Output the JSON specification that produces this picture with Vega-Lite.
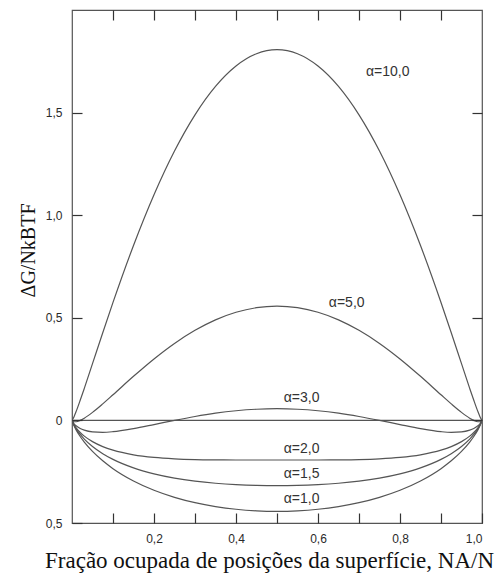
{
  "$schema": "https://vega.github.io/schema/vega-lite/v6.json",
  "width": 410,
  "height": 513,
  "autosize": "none",
  "padding": {"left": 72, "top": 10, "right": 17, "bottom": 59},
  "background": "white",
  "config": {
    "view": {"stroke": "#555", "strokeWidth": 1.2},
    "axis": {
      "labelFont": "Liberation Sans",
      "labelFontSize": 12,
      "labelColor": "#2a2a2a",
      "titleFont": "Liberation Serif",
      "titleFontWeight": "normal",
      "titleColor": "#111"
    }
  },
  "datasets": {
    "curves": [
      {"x": 0, "a10": 0, "a5": 0, "a3": 0, "a2": 0, "a15": 0, "a1": 0},
      {"x": 0.005, "a10": 0.0183, "a5": -0.0066, "a3": -0.0166, "a2": -0.0215, "a15": -0.024, "a1": -0.0265},
      {"x": 0.01, "a10": 0.043, "a5": -0.0065, "a3": -0.0263, "a2": -0.0362, "a15": -0.0412, "a1": -0.0461},
      {"x": 0.02, "a10": 0.098, "a5": 0.0, "a3": -0.0392, "a2": -0.0588, "a15": -0.0686, "a1": -0.0784},
      {"x": 0.03, "a10": 0.156, "a5": 0.0108, "a3": -0.0474, "a2": -0.0765, "a15": -0.0911, "a1": -0.1056},
      {"x": 0.05, "a10": 0.2765, "a5": 0.039, "a3": -0.056, "a2": -0.1035, "a15": -0.1273, "a1": -0.151},
      {"x": 0.075, "a10": 0.4274, "a5": 0.0805, "a3": -0.0583, "a2": -0.1276, "a15": -0.1623, "a1": -0.197},
      {"x": 0.1, "a10": 0.5749, "a5": 0.1249, "a3": -0.0551, "a2": -0.1451, "a15": -0.1901, "a1": -0.2351},
      {"x": 0.15, "a10": 0.8523, "a5": 0.2148, "a3": -0.0402, "a2": -0.1677, "a15": -0.2315, "a1": -0.2952},
      {"x": 0.2, "a10": 1.0996, "a5": 0.2996, "a3": -0.0204, "a2": -0.1804, "a15": -0.2604, "a1": -0.3404},
      {"x": 0.25, "a10": 1.3127, "a5": 0.3752, "a3": 0.0002, "a2": -0.1873, "a15": -0.2811, "a1": -0.3748},
      {"x": 0.3, "a10": 1.4891, "a5": 0.4391, "a3": 0.0191, "a2": -0.1909, "a15": -0.2959, "a1": -0.4009},
      {"x": 0.35, "a10": 1.6276, "a5": 0.4901, "a3": 0.0351, "a2": -0.1924, "a15": -0.3062, "a1": -0.4199},
      {"x": 0.4, "a10": 1.727, "a5": 0.527, "a3": 0.047, "a2": -0.193, "a15": -0.313, "a1": -0.433},
      {"x": 0.45, "a10": 1.7869, "a5": 0.5494, "a3": 0.0544, "a2": -0.1931, "a15": -0.3169, "a1": -0.4406},
      {"x": 0.5, "a10": 1.8069, "a5": 0.5569, "a3": 0.0569, "a2": -0.1931, "a15": -0.3181, "a1": -0.4431},
      {"x": 0.55, "a10": 1.7869, "a5": 0.5494, "a3": 0.0544, "a2": -0.1931, "a15": -0.3169, "a1": -0.4406},
      {"x": 0.6, "a10": 1.727, "a5": 0.527, "a3": 0.047, "a2": -0.193, "a15": -0.313, "a1": -0.433},
      {"x": 0.65, "a10": 1.6276, "a5": 0.4901, "a3": 0.0351, "a2": -0.1924, "a15": -0.3062, "a1": -0.4199},
      {"x": 0.7, "a10": 1.4891, "a5": 0.4391, "a3": 0.0191, "a2": -0.1909, "a15": -0.2959, "a1": -0.4009},
      {"x": 0.75, "a10": 1.3127, "a5": 0.3752, "a3": 0.0002, "a2": -0.1873, "a15": -0.2811, "a1": -0.3748},
      {"x": 0.8, "a10": 1.0996, "a5": 0.2996, "a3": -0.0204, "a2": -0.1804, "a15": -0.2604, "a1": -0.3404},
      {"x": 0.85, "a10": 0.8523, "a5": 0.2148, "a3": -0.0402, "a2": -0.1677, "a15": -0.2315, "a1": -0.2952},
      {"x": 0.9, "a10": 0.5749, "a5": 0.1249, "a3": -0.0551, "a2": -0.1451, "a15": -0.1901, "a1": -0.2351},
      {"x": 0.925, "a10": 0.4274, "a5": 0.0805, "a3": -0.0583, "a2": -0.1276, "a15": -0.1623, "a1": -0.197},
      {"x": 0.95, "a10": 0.2765, "a5": 0.039, "a3": -0.056, "a2": -0.1035, "a15": -0.1273, "a1": -0.151},
      {"x": 0.97, "a10": 0.156, "a5": 0.0108, "a3": -0.0474, "a2": -0.0765, "a15": -0.0911, "a1": -0.1056},
      {"x": 0.98, "a10": 0.098, "a5": 0.0, "a3": -0.0392, "a2": -0.0588, "a15": -0.0686, "a1": -0.0784},
      {"x": 0.99, "a10": 0.043, "a5": -0.0065, "a3": -0.0263, "a2": -0.0362, "a15": -0.0412, "a1": -0.0461},
      {"x": 0.995, "a10": 0.0183, "a5": -0.0066, "a3": -0.0166, "a2": -0.0215, "a15": -0.024, "a1": -0.0265},
      {"x": 1, "a10": 0, "a5": 0, "a3": 0, "a2": 0, "a15": 0, "a1": 0}
    ],
    "zero": [{"x": 0, "y": 0}, {"x": 1, "y": 0}],
    "labels": [
      {"x": 0.77, "g": 1.70, "t": "α=10,0"},
      {"x": 0.67, "g": 0.573, "t": "α=5,0"},
      {"x": 0.56, "g": 0.11, "t": "α=3,0"},
      {"x": 0.56, "g": -0.14, "t": "α=2,0"},
      {"x": 0.56, "g": -0.26, "t": "α=1,5"},
      {"x": 0.56, "g": -0.385, "t": "α=1,0"}
    ]
  },
  "layer": [
    {
      "layer": [
        {
          "data": {"name": "curves"},
          "transform": [{"fold": ["a10", "a5", "a3", "a2", "a15", "a1"], "as": ["alpha", "g"]}],
          "mark": {"type": "line", "color": "#555", "strokeWidth": 1.2, "interpolate": "monotone", "clip": true},
          "encoding": {
            "x": {
              "field": "x", "type": "quantitative",
              "scale": {"domain": [0, 1], "nice": false, "zero": false},
              "axis": {
                "orient": "bottom",
                "zindex": 1,
                "domain": false,
                "grid": false,
                "ticks": true,
                "tickSize": -10,
                "tickWidth": 1.2,
                "tickColor": "#333",
                "values": [0.1, 0.2, 0.3, 0.4, 0.5, 0.6, 0.7, 0.8, 0.9, 1.0],
                "labelExpr": "round(datum.value*10)%2==0 ? replace(format(datum.value,'.1f'),'.',',') : ''",
                "labelPadding": 20,
                "title": "Fração ocupada de posições da superfície, NA/N",
                "titleFontSize": 23,
                "titleX": 197,
                "titleY": 44,
                "titleBaseline": "alphabetic",
                "titleAnchor": "middle"
              }
            },
            "y": {
              "field": "g", "type": "quantitative",
              "scale": {"domain": [-0.5, 2.0], "nice": false, "zero": false},
              "axis": {
                "orient": "left",
                "zindex": 1,
                "domain": false,
                "grid": false,
                "ticks": true,
                "tickSize": -10,
                "tickWidth": 1.2,
                "tickColor": "#333",
                "values": [-0.5, 0, 0.5, 1.0, 1.5],
                "labelExpr": "datum.value==0 ? '0' : replace(format(abs(datum.value),'.1f'),'.',',')",
                "labelPadding": 20,
                "title": "ΔG/NkBTF",
                "titleFontSize": 20,
                "titleX": -44,
                "titleY": 240,
                "titleAngle": -90,
                "titleBaseline": "middle",
                "titleAnchor": "middle"
              }
            },
            "detail": {"field": "alpha"}
          }
        },
        {
          "data": {"name": "labels"},
          "mark": {"type": "text", "font": "Liberation Sans", "fontSize": 14, "color": "#333", "align": "center", "baseline": "middle"},
          "encoding": {
            "x": {"field": "x", "type": "quantitative"},
            "y": {"field": "g", "type": "quantitative"},
            "text": {"field": "t"}
          }
        }
      ]
    },
    {
      "data": {"name": "zero"},
      "mark": {"type": "line", "color": "#555", "strokeWidth": 1.2},
      "encoding": {
        "x": {
          "field": "x", "type": "quantitative",
          "axis": {"orient": "top", "zindex": 1, "domain": false, "grid": false, "ticks": true, "tickSize": -10, "tickWidth": 1.2, "tickColor": "#333", "values": [0.1, 0.2, 0.3, 0.4, 0.5, 0.6, 0.7, 0.8, 0.9], "labels": false, "title": null}
        },
        "y": {
          "field": "y", "type": "quantitative",
          "axis": {"orient": "right", "zindex": 1, "domain": false, "grid": false, "ticks": true, "tickSize": -10, "tickWidth": 1.2, "tickColor": "#333", "values": [0, 0.5, 1.0, 1.5], "labels": false, "title": null}
        }
      }
    }
  ],
  "resolve": {"axis": {"x": "independent", "y": "independent"}}
}
